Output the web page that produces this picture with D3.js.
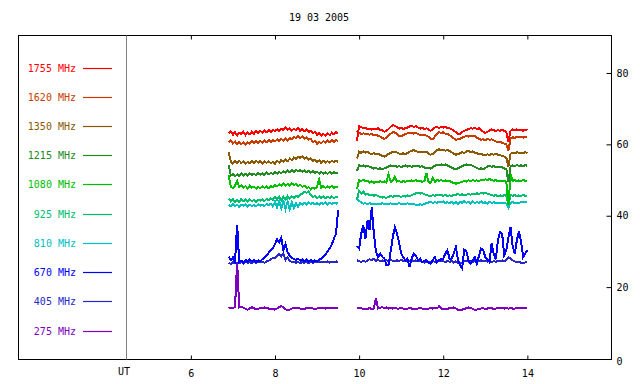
<!DOCTYPE html>
<html>
<head>
<meta charset="utf-8">
<script src="https://cdn.jsdelivr.net/npm/d3@7"></script>
<style>
  html, body { margin: 0; padding: 0; background: #fff; }
  svg { display: block; }
  text { font-family: "DejaVu Sans Mono", monospace; font-size: 10px; }
</style>
</head>
<body>
<svg id="chart" width="640" height="384"></svg>
<script>
// ---------- data ----------
const title = "19 03 2005";
const labels = ["1755 MHz","1620 MHz","1350 MHz","1215 MHz","1080 MHz","925 MHz","810 MHz","670 MHz","405 MHz","275 MHz"];
const colors = ["#ff0000","#c83c00","#8b5a00","#228b22","#00c000","#00c070","#00c0c0","#0000ff","#2828c8","#8000c0"];
const xTicks = [6, 8, 10, 12, 14];
const yTicks = [0, 20, 40, 60, 80];
const seg1Start = 6.90, seg2Start = 9.95, stepH = 0.05;

// segment 1 (6.90 h .. 9.50 h, every 0.05 h)
const f1755a = [63.0,63.6,62.7,63.4,62.5,63.2,62.9,63.5,62.6,63.3,62.8,63.6,63.0,63.7,63.1,63.8,63.3,63.9,63.4,64.0,63.5,64.1,63.7,64.2,63.8,64.4,64.0,64.7,64.1,64.5,63.9,64.4,64.0,64.5,63.8,64.3,63.7,64.2,63.4,63.8,63.1,63.5,62.7,63.2,62.4,62.9,62.5,63.1,62.6,63.3,62.8,63.4,63.0];
const f1620a = [60.6,61.1,60.2,60.8,60.0,60.7,60.1,60.6,59.9,60.5,60.2,60.9,60.3,61.0,60.4,61.0,60.5,61.1,60.6,61.2,60.7,61.3,60.8,61.4,60.9,61.5,61.0,61.6,61.1,61.8,61.4,62.1,61.7,62.3,61.8,62.2,61.6,62.0,61.3,61.5,60.6,60.9,60.2,60.7,60.3,60.9,60.5,61.1,60.6,61.2,60.7,61.2,60.9];
const f1350a = [57.8,55.2,54.6,55.3,54.7,55.4,54.8,55.2,54.5,55.1,54.7,55.3,54.8,55.4,54.9,55.3,54.6,55.2,54.8,55.3,54.7,55.1,54.6,55.4,54.9,55.6,55.1,55.8,55.3,56.0,55.6,56.3,55.9,56.6,56.2,56.7,56.0,56.4,55.7,56.1,55.3,55.7,55.0,55.5,54.8,55.4,54.9,55.3,54.8,55.4,55.0,55.5,55.1];
const f1215a = [54.1,51.2,51.7,51.0,51.6,51.1,51.8,51.3,51.7,51.2,51.9,51.4,51.8,51.3,52.0,51.5,51.9,51.4,52.1,51.6,52.0,51.7,52.2,51.8,52.3,51.9,52.5,52.0,52.6,52.2,52.8,52.3,52.9,52.4,52.8,52.3,52.7,52.2,52.6,52.1,52.5,52.0,52.4,51.8,52.3,51.8,52.2,51.7,52.3,51.8,52.2,51.9,52.1];
const f1080a = [51.3,48.2,47.7,48.4,49.8,48.0,48.5,47.8,48.3,47.7,48.4,47.9,48.2,47.6,48.1,47.7,48.3,47.8,48.2,47.7,48.3,48.0,48.6,48.2,48.8,48.4,49.0,48.5,48.9,48.4,49.1,48.6,48.9,48.3,48.7,48.1,48.4,47.8,48.0,47.4,47.9,47.6,48.1,50.2,47.9,48.3,47.8,48.2,47.9,48.3,47.8,48.2,48.0];
const f925a  = [44.8,44.0,44.6,43.8,44.5,43.9,44.7,44.1,44.5,44.0,44.6,44.1,44.4,43.9,44.5,44.2,44.6,44.1,44.7,44.3,44.9,44.4,45.2,44.5,45.4,44.4,45.3,44.6,45.5,44.8,45.4,45.0,45.6,45.3,45.9,46.2,46.7,46.4,46.8,45.8,45.2,45.6,44.9,45.4,45.0,45.5,44.9,45.3,45.0,45.4,44.9,45.3,45.1];
const f810a  = [43.0,42.6,43.2,42.7,43.1,42.5,43.0,42.8,43.2,42.6,43.1,42.7,43.0,42.6,43.2,42.8,43.1,42.7,43.3,42.9,43.4,42.6,43.9,42.3,44.2,42.1,44.3,41.9,44.0,41.8,43.8,42.2,43.6,42.5,43.5,43.1,43.6,43.2,43.7,43.3,43.6,43.2,43.5,43.1,43.6,43.3,43.7,43.2,43.6,43.3,43.7,43.4,43.5];
const f670a  = [28.5,27.6,28.3,27.2,37.5,27.0,27.4,26.9,27.6,27.1,27.8,27.2,27.6,27.0,27.5,27.3,27.8,28.4,28.9,29.6,30.3,31.0,32.0,33.4,32.6,33.9,30.4,32.0,29.8,28.8,28.2,27.9,27.6,28.0,27.4,27.8,27.3,27.7,27.2,27.6,27.0,27.5,27.2,27.8,28.0,28.6,29.2,30.0,30.8,32.0,33.5,35.0,41.5];
const f405a  = [26.8,26.5,27.0,26.6,26.9,26.7,27.0,26.6,27.1,26.8,27.0,26.7,27.1,26.8,27.2,26.9,27.1,26.8,27.2,27.4,27.8,28.2,28.0,28.7,29.3,28.6,29.4,27.6,28.3,27.4,27.0,27.2,26.8,27.1,26.7,27.0,26.8,27.1,26.7,27.0,26.8,27.1,26.9,27.2,26.9,27.1,27.0,27.2,26.9,27.1,27.0,27.2,27.1];
const f275a  = [14.1,14.3,14.2,14.4,27.0,14.3,14.5,14.2,13.9,13.7,14.0,14.4,14.1,13.8,13.9,14.1,14.2,14.3,14.1,14.0,13.9,13.8,13.7,14.0,14.4,14.7,14.3,13.8,13.5,13.7,14.0,14.1,14.2,14.2,14.0,13.8,13.9,14.1,14.2,14.1,14.0,13.9,14.0,14.1,14.1,14.2,14.0,14.1,14.2,14.1,14.2,14.1,14.2];

// segment 2 (9.95 h .. 14.00 h, every 0.05 h)
const f1755b = [61.0,65.1,64.8,64.5,64.6,64.2,64.4,64.1,64.4,64.2,64.5,64.1,63.9,63.5,63.8,64.3,64.9,65.4,65.2,64.8,64.4,64.6,64.3,64.6,64.7,65.0,65.2,64.9,65.1,64.7,64.4,64.6,64.3,64.5,64.2,63.8,64.1,64.7,64.9,64.6,64.9,64.7,64.9,64.6,64.5,64.2,63.9,63.4,62.9,63.0,63.5,63.8,64.0,64.3,64.5,64.4,64.6,64.3,64.5,64.0,63.6,63.2,63.5,63.9,64.2,64.0,63.7,64.0,63.8,64.1,63.8,63.4,60.6,63.8,64.2,63.9,64.2,63.9,64.1,63.8,64.1,63.9];
const f1620b = [63.8,63.3,62.9,63.1,62.8,63.0,62.7,62.9,62.6,62.7,62.4,62.2,61.8,61.5,61.9,62.5,63.0,63.4,63.3,62.9,62.4,62.3,62.6,62.9,63.1,63.3,63.2,63.0,63.2,62.9,62.6,62.5,62.7,62.4,62.1,61.6,61.4,62.2,63.0,63.4,63.2,63.4,63.0,62.9,62.6,62.2,61.7,61.3,61.4,61.6,61.9,62.1,62.3,62.2,62.4,62.2,62.3,61.9,61.6,61.3,61.4,61.2,61.5,61.3,61.4,61.1,60.8,60.6,60.7,60.4,60.2,60.0,58.2,61.6,62.0,61.8,62.1,61.9,62.2,61.9,62.1,62.0];
const f1350b = [56.0,57.9,57.6,58.0,57.7,57.9,57.5,57.3,57.5,57.2,57.4,57.0,56.8,56.6,56.9,57.3,57.6,57.9,57.8,57.7,57.4,57.3,57.5,57.2,57.6,57.9,58.2,58.4,58.1,57.9,57.7,58.0,57.8,57.9,57.4,57.1,57.3,57.9,58.4,58.6,58.3,58.5,58.2,58.4,58.1,57.8,57.4,57.1,57.3,57.5,57.8,57.6,58.0,58.1,57.9,58.0,57.7,57.5,57.2,57.4,57.0,56.9,57.2,57.0,57.3,57.1,57.4,57.1,57.0,56.8,56.6,56.2,53.8,57.4,57.7,57.5,57.8,57.6,57.7,57.5,57.8,57.6];
const f1215b = [52.5,54.2,53.9,54.1,53.8,54.0,53.7,53.5,53.2,53.4,53.1,53.3,53.0,53.3,53.5,53.8,54.1,53.9,54.0,53.7,53.9,53.6,53.9,54.1,53.8,54.0,53.7,54.0,53.8,54.1,53.7,53.9,53.5,53.3,53.4,53.2,53.6,54.0,54.3,54.1,54.4,54.2,54.4,54.1,53.8,53.5,53.2,53.0,53.3,53.6,53.9,54.2,54.4,54.1,54.3,54.0,53.7,53.4,53.1,53.3,53.0,53.4,53.8,54.0,53.7,53.9,53.6,53.8,53.5,53.6,53.3,53.0,49.4,53.8,54.1,53.9,54.2,54.0,54.1,53.9,54.2,54.0];
const f1080b = [47.5,50.0,49.7,50.1,49.6,49.8,49.3,49.6,49.2,49.5,49.3,49.7,49.4,49.6,49.3,51.6,49.5,49.8,50.9,49.6,49.8,49.4,49.7,49.5,49.8,49.6,49.9,49.7,50.0,49.6,49.8,49.5,49.7,51.9,49.4,49.2,50.6,49.5,50.1,49.8,50.0,49.7,49.9,49.6,49.8,49.4,49.2,49.0,49.1,49.3,49.5,49.7,49.6,49.9,49.7,50.0,49.8,49.9,49.7,50.1,49.9,50.2,50.0,50.3,50.0,49.8,50.0,49.7,49.9,49.6,49.8,49.5,42.9,51.5,49.8,50.0,49.7,49.9,49.7,50.0,49.8,49.9];
const f925b  = [44.5,47.0,46.2,46.8,45.9,46.1,45.7,45.9,45.6,45.8,45.5,45.3,45.1,45.2,45.0,45.3,45.5,45.3,45.6,45.4,45.5,45.3,45.6,45.4,45.7,45.5,45.8,46.0,46.3,46.4,46.2,46.4,46.0,45.9,45.6,45.5,45.8,45.6,45.9,45.7,45.8,45.6,45.8,45.5,45.7,45.6,45.8,45.9,46.1,45.8,46.0,45.7,45.9,46.1,45.9,46.2,46.0,46.3,46.1,46.4,46.2,46.5,46.2,46.0,45.8,45.6,45.8,45.5,45.7,45.5,45.8,45.6,43.0,45.9,45.6,45.8,45.5,45.7,45.5,45.8,45.6,45.7];
const f810b  = [44.8,44.2,43.7,43.4,43.5,43.3,43.5,43.3,43.4,43.2,43.4,43.3,43.5,43.2,43.4,43.3,43.5,43.2,43.4,43.3,43.5,43.3,43.4,43.2,43.5,43.3,43.4,43.2,43.1,43.0,43.2,43.0,43.3,43.5,43.7,43.9,43.6,43.8,43.6,43.9,43.7,44.0,43.6,43.8,43.5,43.9,43.4,43.8,43.3,44.0,43.5,44.1,43.6,43.9,43.4,44.0,43.5,43.9,43.6,44.0,43.5,43.8,43.4,43.9,43.6,43.8,43.5,43.7,43.4,43.6,43.5,43.4,42.3,43.6,43.8,43.5,43.7,43.6,43.8,43.7,43.9,43.8];
const f670b  = [31.5,30.8,35.0,37.3,33.5,38.7,36.0,42.4,35.0,30.0,28.4,29.4,28.5,28.0,26.1,26.3,30.0,34.0,36.8,35.0,32.5,29.4,28.4,27.5,28.0,25.6,28.0,29.4,28.8,27.5,28.0,27.0,27.4,27.5,26.9,26.6,27.5,28.4,27.0,27.5,27.8,28.0,29.4,30.3,28.0,28.0,29.5,31.2,27.8,26.1,25.2,30.5,30.0,27.5,26.6,27.5,28.4,26.6,28.8,30.8,30.3,28.4,27.8,27.0,32.2,29.4,27.8,33.1,35.4,35.0,29.0,30.3,34.0,36.8,31.5,29.4,33.1,35.6,32.8,28.4,29.4,30.3];
const f405b  = [27.5,27.3,27.0,27.4,27.1,27.5,27.8,27.6,27.9,27.4,27.6,27.3,27.5,27.2,27.5,27.3,27.6,27.4,27.2,27.5,27.3,27.6,27.4,27.5,27.2,27.4,27.6,27.3,27.5,27.2,27.4,27.1,26.9,27.2,26.8,27.0,27.3,27.1,27.4,27.2,27.5,27.3,27.0,27.4,27.1,27.3,26.9,27.2,26.8,26.5,26.9,27.2,27.4,27.1,27.3,27.0,27.4,27.1,27.3,27.5,27.2,27.4,27.1,27.3,27.0,27.3,27.1,27.4,27.2,27.5,27.3,27.6,28.3,28.0,27.5,27.2,26.9,27.1,26.8,26.7,26.9,27.0];
const f275b  = [14.3,14.0,14.1,13.9,14.0,13.9,14.1,13.9,14.0,16.8,14.0,14.2,14.4,14.1,14.3,14.0,14.1,14.0,14.1,14.0,14.0,14.1,14.0,13.9,14.0,14.1,14.0,14.0,13.9,14.0,14.1,14.0,13.9,14.0,14.0,14.1,14.0,14.1,14.0,14.6,14.0,13.9,14.0,13.9,14.1,14.2,14.3,14.0,13.6,13.5,13.7,13.9,14.1,14.3,14.2,13.9,13.6,13.7,13.9,14.0,14.1,13.9,14.0,14.2,14.1,13.9,14.0,14.1,14.0,14.1,14.0,14.1,14.0,14.1,14.0,14.0,14.1,14.0,14.1,14.0,14.1,14.0];

const seg1 = [f1755a,f1620a,f1350a,f1215a,f1080a,f925a,f810a,f670a,f405a,f275a];
const seg2 = [f1755b,f1620b,f1350b,f1215b,f1080b,f925b,f810b,f670b,f405b,f275b];

// ---------- layout ----------
const svg = d3.select("#chart");
const frame = {left: 18.5, right: 611.5, top: 35.5, bottom: 359.5};
const utX = 126.5;

const x = d3.scaleLinear().domain([4.47, 16]).range([utX, frame.right]);
const y = d3.scaleLinear().domain([0, 90.5]).range([358.5, frame.top]);

svg.append("rect").attr("width", 640).attr("height", 384).attr("fill", "#fff");

// title
svg.append("text").attr("x", 319).attr("y", 18).attr("text-anchor", "middle")
  .attr("dominant-baseline", "middle").attr("fill", "#000").text(title);

// frame
svg.append("rect").attr("x", frame.left).attr("y", frame.top)
  .attr("width", frame.right - frame.left).attr("height", frame.bottom - frame.top)
  .attr("fill", "none").attr("stroke", "#000").attr("stroke-width", 1);

// UT divider
svg.append("line").attr("x1", utX).attr("x2", utX).attr("y1", frame.top).attr("y2", frame.bottom)
  .attr("stroke", "#808080").attr("stroke-width", 1);

// bottom axis
const gx = svg.append("g").attr("transform", `translate(0,${frame.bottom})`)
  .call(d3.axisBottom(x).tickValues(xTicks).tickFormat(d3.format("d"))
    .tickSizeInner(-4).tickSizeOuter(0).tickPadding(10));
gx.select(".domain").remove();
gx.selectAll("text").attr("font-family", "DejaVu Sans Mono").attr("font-size", 10);

// top ticks
const gt = svg.append("g").attr("transform", `translate(0,${frame.top})`)
  .call(d3.axisTop(x).tickValues(xTicks).tickFormat("").tickSizeInner(-4).tickSizeOuter(0));
gt.select(".domain").remove();

svg.append("text").attr("x", 124).attr("y", 375).attr("text-anchor", "middle").attr("fill", "#000").text("UT");

// right axis
const gy = svg.append("g").attr("transform", `translate(${frame.right},0)`)
  .call(d3.axisRight(y).tickValues(yTicks).tickFormat(d3.format("d"))
    .tickSizeInner(-5).tickSizeOuter(0).tickPadding(5));
gy.select(".domain").remove();
gy.selectAll("text").attr("font-family", "DejaVu Sans Mono").attr("font-size", 10);
gy.selectAll(".tick").filter(d => d === 0).select("line").remove();
gy.selectAll(".tick").filter(d => d === 0).select("text").attr("dy", "0.55em");

// legend
const legY = d3.scaleLinear().domain([0, 9]).range([67.5, 330.5]);
labels.forEach((lab, i) => {
  const ly = Math.round(legY(i)) + 0.5;
  svg.append("text").attr("x", 76).attr("y", ly).attr("text-anchor", "end")
    .attr("dominant-baseline", "middle").attr("fill", colors[i]).text(lab);
  svg.append("line").attr("x1", 83).attr("x2", 112).attr("y1", ly).attr("y2", ly)
    .attr("stroke", colors[i]).attr("stroke-width", 1.2);
});

// data lines
const lineGen = start => d3.line().x((d, i) => x(start + i * stepH)).y(d => y(d));
const order = [9, 8, 7, 6, 5, 4, 3, 2, 1, 0];
const gData = svg.append("g").attr("shape-rendering", "crispEdges");
order.forEach(i => {
  gData.append("path").datum(seg1[i]).attr("d", lineGen(seg1Start))
    .attr("fill", "none").attr("stroke", colors[i]).attr("stroke-width", 2)
    .attr("stroke-linejoin", "miter");
  gData.append("path").datum(seg2[i]).attr("d", lineGen(seg2Start))
    .attr("fill", "none").attr("stroke", colors[i]).attr("stroke-width", 2)
    .attr("stroke-linejoin", "miter");
});
</script>
</body>
</html>
